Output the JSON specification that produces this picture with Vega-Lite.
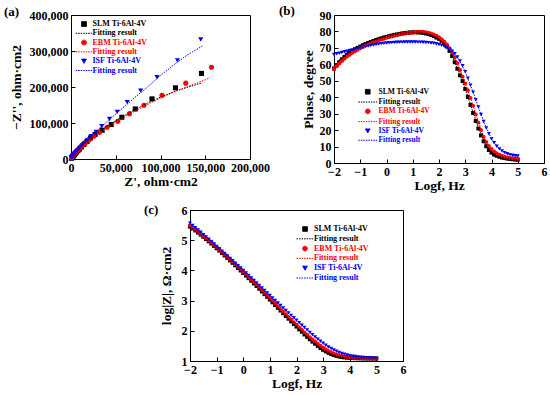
{
  "$schema": "https://vega.github.io/schema/vega-lite/v6.json",
  "background": "white",
  "padding": {"left": 3, "top": 4, "right": 2, "bottom": 2},
  "spacing": 11,
  "resolve": {"scale": {"color": "independent", "shape": "independent"}, "legend": {"color": "independent", "shape": "independent"}},
  "datasets": {
    "nyq": [
      {"k":"SLM","x":145800,"y":237700},{"k":"SLM","x":116700,"y":197700},{"k":"SLM","x":90500,"y":167000},{"k":"SLM","x":71800,"y":139000},{"k":"SLM","x":56800,"y":116000},{"k":"SLM","x":44900,"y":95700},{"k":"SLM","x":34800,"y":80000},{"k":"SLM","x":26900,"y":68000},{"k":"SLM","x":21700,"y":58500},{"k":"SLM","x":17800,"y":48500},{"k":"SLM","x":14400,"y":40200},{"k":"SLM","x":11700,"y":33400},{"k":"SLM","x":9500,"y":27700},{"k":"SLM","x":7700,"y":22900},{"k":"SLM","x":6200,"y":19000},{"k":"SLM","x":5000,"y":15700},{"k":"SLM","x":4000,"y":13000},{"k":"SLM","x":3200,"y":10800},{"k":"SLM","x":2500,"y":8900},{"k":"SLM","x":2000,"y":7400},{"k":"SLM","x":1600,"y":6100},{"k":"SLM","x":1300,"y":5000},{"k":"SLM","x":1000,"y":4000},{"k":"SLM","x":800,"y":3200},{"k":"SLM","x":600,"y":2500},
      {"k":"EBM","x":157000,"y":255000},{"k":"EBM","x":128200,"y":210700},{"k":"EBM","x":101700,"y":177000},{"k":"EBM","x":81500,"y":149500},{"k":"EBM","x":65400,"y":126000},{"k":"EBM","x":52300,"y":105000},{"k":"EBM","x":40400,"y":88000},{"k":"EBM","x":31800,"y":74000},{"k":"EBM","x":25400,"y":63000},{"k":"EBM","x":20200,"y":53000},{"k":"EBM","x":16000,"y":44500},{"k":"EBM","x":12600,"y":37200},{"k":"EBM","x":9900,"y":31000},{"k":"EBM","x":7800,"y":25800},{"k":"EBM","x":6100,"y":21300},{"k":"EBM","x":4800,"y":17600},{"k":"EBM","x":3700,"y":14500},{"k":"EBM","x":2900,"y":11900},{"k":"EBM","x":2200,"y":9800},{"k":"EBM","x":1700,"y":8000},{"k":"EBM","x":1300,"y":6600},{"k":"EBM","x":1000,"y":5400},{"k":"EBM","x":800,"y":4400},{"k":"EBM","x":600,"y":3500},
      {"k":"ISF","x":145000,"y":332000},{"k":"ISF","x":118900,"y":274000},{"k":"ISF","x":96100,"y":227000},{"k":"ISF","x":77800,"y":190000},{"k":"ISF","x":62800,"y":158000},{"k":"ISF","x":51600,"y":131000},{"k":"ISF","x":43000,"y":111000},{"k":"ISF","x":34400,"y":91000},{"k":"ISF","x":28000,"y":75000},{"k":"ISF","x":22400,"y":63000},{"k":"ISF","x":18500,"y":53000},{"k":"ISF","x":15200,"y":44500},{"k":"ISF","x":12500,"y":37300},{"k":"ISF","x":10200,"y":31200},{"k":"ISF","x":8300,"y":26100},{"k":"ISF","x":6800,"y":21800},{"k":"ISF","x":5500,"y":18200},{"k":"ISF","x":4500,"y":15200},{"k":"ISF","x":3600,"y":12700},{"k":"ISF","x":2900,"y":10600},{"k":"ISF","x":2400,"y":8800},{"k":"ISF","x":1900,"y":7300},{"k":"ISF","x":1500,"y":6100},{"k":"ISF","x":1200,"y":5100},{"k":"ISF","x":900,"y":4200}
    ],
    "nyqfit": [
      {"k":"SLM_fit","x":0,"y":0},{"k":"SLM_fit","x":2000,"y":7500},{"k":"SLM_fit","x":5000,"y":17000},{"k":"SLM_fit","x":10000,"y":30000},{"k":"SLM_fit","x":17000,"y":46000},{"k":"SLM_fit","x":25000,"y":63000},{"k":"SLM_fit","x":35000,"y":82000},{"k":"SLM_fit","x":45000,"y":99000},{"k":"SLM_fit","x":57000,"y":117000},{"k":"SLM_fit","x":70000,"y":135000},{"k":"SLM_fit","x":85000,"y":155000},{"k":"SLM_fit","x":100000,"y":172000},{"k":"SLM_fit","x":115000,"y":187000},{"k":"SLM_fit","x":130000,"y":199000},{"k":"SLM_fit","x":145800,"y":211000},
      {"k":"EBM_fit","x":0,"y":0},{"k":"EBM_fit","x":2000,"y":7000},{"k":"EBM_fit","x":5000,"y":16000},{"k":"EBM_fit","x":10000,"y":28500},{"k":"EBM_fit","x":17000,"y":44500},{"k":"EBM_fit","x":25000,"y":61000},{"k":"EBM_fit","x":35000,"y":79000},{"k":"EBM_fit","x":45000,"y":95000},{"k":"EBM_fit","x":57000,"y":113000},{"k":"EBM_fit","x":70000,"y":131000},{"k":"EBM_fit","x":85000,"y":151000},{"k":"EBM_fit","x":100000,"y":169000},{"k":"EBM_fit","x":115000,"y":186000},{"k":"EBM_fit","x":130000,"y":201000},{"k":"EBM_fit","x":145000,"y":215000},{"k":"EBM_fit","x":155200,"y":225500},
      {"k":"ISF_fit","x":0,"y":0},{"k":"ISF_fit","x":2000,"y":8000},{"k":"ISF_fit","x":5000,"y":18000},{"k":"ISF_fit","x":10000,"y":33000},{"k":"ISF_fit","x":17000,"y":51000},{"k":"ISF_fit","x":25000,"y":69000},{"k":"ISF_fit","x":35000,"y":92000},{"k":"ISF_fit","x":45000,"y":114000},{"k":"ISF_fit","x":57000,"y":140000},{"k":"ISF_fit","x":70000,"y":168000},{"k":"ISF_fit","x":85000,"y":199000},{"k":"ISF_fit","x":100000,"y":232000},{"k":"ISF_fit","x":115000,"y":262000},{"k":"ISF_fit","x":130000,"y":289000},{"k":"ISF_fit","x":146600,"y":313700}
    ],
    "ph": [
      {"f":-2,"SLM":57.5,"EBM":57,"ISF":66},{"f":-1.9,"SLM":59.5,"EBM":58.8,"ISF":66.4},{"f":-1.8,"SLM":61.3,"EBM":60.5,"ISF":66.8},{"f":-1.7,"SLM":63,"EBM":62,"ISF":67.2},{"f":-1.6,"SLM":64.5,"EBM":63.4,"ISF":67.6},{"f":-1.5,"SLM":65.8,"EBM":64.7,"ISF":68},{"f":-1.4,"SLM":67,"EBM":65.9,"ISF":68.4},{"f":-1.3,"SLM":68.1,"EBM":67,"ISF":68.8},{"f":-1.2,"SLM":69.1,"EBM":68,"ISF":69.2},{"f":-1.1,"SLM":70,"EBM":68.9,"ISF":69.6},
      {"f":-1,"SLM":70.8,"EBM":69.8,"ISF":70},{"f":-0.9,"SLM":71.6,"EBM":70.6,"ISF":70.4},{"f":-0.8,"SLM":72.3,"EBM":71.4,"ISF":70.8},{"f":-0.7,"SLM":73,"EBM":72.1,"ISF":71.2},{"f":-0.6,"SLM":73.6,"EBM":72.8,"ISF":71.5},{"f":-0.5,"SLM":74.2,"EBM":73.4,"ISF":71.8},{"f":-0.4,"SLM":74.8,"EBM":74,"ISF":72.1},{"f":-0.3,"SLM":75.3,"EBM":74.6,"ISF":72.4},{"f":-0.2,"SLM":75.8,"EBM":75.1,"ISF":72.6},{"f":-0.1,"SLM":76.3,"EBM":75.6,"ISF":72.8},
      {"f":0,"SLM":76.7,"EBM":76.1,"ISF":73},{"f":0.1,"SLM":77.1,"EBM":76.6,"ISF":73.1},{"f":0.2,"SLM":77.5,"EBM":77,"ISF":73.2},{"f":0.3,"SLM":77.9,"EBM":77.4,"ISF":73.3},{"f":0.4,"SLM":78.2,"EBM":77.8,"ISF":73.4},{"f":0.5,"SLM":78.5,"EBM":78.1,"ISF":73.5},{"f":0.6,"SLM":78.8,"EBM":78.4,"ISF":73.5},{"f":0.7,"SLM":79,"EBM":78.7,"ISF":73.6},{"f":0.8,"SLM":79.2,"EBM":79,"ISF":73.6},{"f":0.9,"SLM":79.4,"EBM":79.2,"ISF":73.6},
      {"f":1,"SLM":79.5,"EBM":79.4,"ISF":73.6},{"f":1.1,"SLM":79.5,"EBM":79.6,"ISF":73.6},{"f":1.2,"SLM":79.4,"EBM":79.7,"ISF":73.5},{"f":1.3,"SLM":79.3,"EBM":79.8,"ISF":73.5},{"f":1.4,"SLM":79.1,"EBM":79.7,"ISF":73.4},{"f":1.5,"SLM":78.8,"EBM":79.5,"ISF":73.3},{"f":1.6,"SLM":78.4,"EBM":79.2,"ISF":73.2},{"f":1.7,"SLM":77.9,"EBM":78.8,"ISF":73},{"f":1.8,"SLM":77.2,"EBM":78.2,"ISF":72.8},{"f":1.9,"SLM":76.3,"EBM":77.4,"ISF":72.5},
      {"f":2,"SLM":75.5,"EBM":76.4,"ISF":72.1},{"f":2.1,"SLM":74.3,"EBM":75.2,"ISF":71.6},{"f":2.2,"SLM":72.8,"EBM":73.8,"ISF":71},{"f":2.3,"SLM":70.8,"EBM":72,"ISF":70.2},{"f":2.4,"SLM":68.2,"EBM":69.8,"ISF":69.2},{"f":2.5,"SLM":65,"EBM":67.2,"ISF":68},{"f":2.6,"SLM":61.3,"EBM":64.2,"ISF":66.4},{"f":2.7,"SLM":57.3,"EBM":60.6,"ISF":64.4},{"f":2.8,"SLM":53.3,"EBM":56.6,"ISF":62},{"f":2.9,"SLM":49.8,"EBM":52.5,"ISF":59.2},
      {"f":3,"SLM":45,"EBM":48.4,"ISF":55.5},{"f":3.1,"SLM":40.2,"EBM":44.2,"ISF":51.5},{"f":3.2,"SLM":35.3,"EBM":39.6,"ISF":47.3},{"f":3.3,"SLM":30.4,"EBM":34.8,"ISF":43},{"f":3.4,"SLM":25.6,"EBM":29.5,"ISF":38.5},{"f":3.5,"SLM":21,"EBM":24.5,"ISF":34},{"f":3.6,"SLM":16.8,"EBM":20,"ISF":29.5},{"f":3.7,"SLM":13.2,"EBM":16,"ISF":25.3},{"f":3.8,"SLM":10.2,"EBM":12.8,"ISF":21.3},{"f":3.9,"SLM":7.9,"EBM":10.3,"ISF":17.8},
      {"f":4,"SLM":6.3,"EBM":8.5,"ISF":14.8},{"f":4.1,"SLM":5.1,"EBM":7,"ISF":12.3},{"f":4.2,"SLM":4.4,"EBM":5.9,"ISF":10.2},{"f":4.3,"SLM":3.8,"EBM":5,"ISF":8.6},{"f":4.4,"SLM":3.3,"EBM":4.4,"ISF":7.3},{"f":4.5,"SLM":3,"EBM":3.8,"ISF":6.3},{"f":4.6,"SLM":2.7,"EBM":3.4,"ISF":5.6},{"f":4.7,"SLM":2.5,"EBM":3.1,"ISF":5.1},{"f":4.8,"SLM":2.3,"EBM":2.9,"ISF":4.7},{"f":4.9,"SLM":2.1,"EBM":2.7,"ISF":4.4},{"f":5,"SLM":2,"EBM":2.6,"ISF":4.2}
    ],
    "phfit": [
      {"f":-2,"SLM_fit":59,"EBM_fit":58,"ISF_fit":66.2},{"f":-1.75,"SLM_fit":63.5,"EBM_fit":62,"ISF_fit":67},{"f":-1.5,"SLM_fit":67,"EBM_fit":65.2,"ISF_fit":68},{"f":-1.25,"SLM_fit":69.6,"EBM_fit":67.8,"ISF_fit":69},{"f":-1,"SLM_fit":71.6,"EBM_fit":70,"ISF_fit":70},{"f":-0.75,"SLM_fit":73.3,"EBM_fit":71.9,"ISF_fit":71},{"f":-0.5,"SLM_fit":74.7,"EBM_fit":73.5,"ISF_fit":71.8},{"f":-0.25,"SLM_fit":75.9,"EBM_fit":74.9,"ISF_fit":72.5},{"f":0,"SLM_fit":76.9,"EBM_fit":76.1,"ISF_fit":73},{"f":0.25,"SLM_fit":77.8,"EBM_fit":77.2,"ISF_fit":73.3},{"f":0.5,"SLM_fit":78.5,"EBM_fit":78.1,"ISF_fit":73.5},{"f":0.75,"SLM_fit":79.1,"EBM_fit":78.8,"ISF_fit":73.6},{"f":1,"SLM_fit":79.4,"EBM_fit":79.4,"ISF_fit":73.6},{"f":1.25,"SLM_fit":79.4,"EBM_fit":79.7,"ISF_fit":73.5},{"f":1.5,"SLM_fit":78.9,"EBM_fit":79.5,"ISF_fit":73.3},{"f":1.75,"SLM_fit":77.7,"EBM_fit":78.5,"ISF_fit":72.9},{"f":2,"SLM_fit":75.4,"EBM_fit":76.4,"ISF_fit":72.1},{"f":2.25,"SLM_fit":71.8,"EBM_fit":73,"ISF_fit":70.6},{"f":2.5,"SLM_fit":65.2,"EBM_fit":67.2,"ISF_fit":68},{"f":2.75,"SLM_fit":55.6,"EBM_fit":58.6,"ISF_fit":63.2},{"f":3,"SLM_fit":45,"EBM_fit":48.4,"ISF_fit":55.5},{"f":3.25,"SLM_fit":33,"EBM_fit":37.2,"ISF_fit":45.2},{"f":3.5,"SLM_fit":21.5,"EBM_fit":25,"ISF_fit":34},{"f":3.75,"SLM_fit":12,"EBM_fit":14.4,"ISF_fit":23.3},{"f":4,"SLM_fit":6.5,"EBM_fit":8.5,"ISF_fit":14.8},{"f":4.25,"SLM_fit":4.2,"EBM_fit":5.5,"ISF_fit":9.3},{"f":4.5,"SLM_fit":3,"EBM_fit":3.8,"ISF_fit":6.3},{"f":4.75,"SLM_fit":2.4,"EBM_fit":3,"ISF_fit":4.9},{"f":5,"SLM_fit":2,"EBM_fit":2.6,"ISF_fit":4.2}
    ],
    "mz": [
      {"f":-2,"SLM":5.45,"EBM":5.476,"ISF":5.56},{"f":-1.9,"SLM":5.387,"EBM":5.412,"ISF":5.486},{"f":-1.8,"SLM":5.321,"EBM":5.346,"ISF":5.411},{"f":-1.7,"SLM":5.253,"EBM":5.278,"ISF":5.336},{"f":-1.6,"SLM":5.183,"EBM":5.208,"ISF":5.26},{"f":-1.5,"SLM":5.112,"EBM":5.137,"ISF":5.184},{"f":-1.4,"SLM":5.039,"EBM":5.065,"ISF":5.107},{"f":-1.3,"SLM":4.964,"EBM":4.991,"ISF":5.03},{"f":-1.2,"SLM":4.889,"EBM":4.917,"ISF":4.953},{"f":-1.1,"SLM":4.812,"EBM":4.841,"ISF":4.875},
      {"f":-1,"SLM":4.734,"EBM":4.764,"ISF":4.796},{"f":-0.9,"SLM":4.656,"EBM":4.687,"ISF":4.717},{"f":-0.8,"SLM":4.576,"EBM":4.608,"ISF":4.638},{"f":-0.7,"SLM":4.496,"EBM":4.529,"ISF":4.558},{"f":-0.6,"SLM":4.415,"EBM":4.449,"ISF":4.478},{"f":-0.5,"SLM":4.333,"EBM":4.368,"ISF":4.397},{"f":-0.4,"SLM":4.25,"EBM":4.286,"ISF":4.316},{"f":-0.3,"SLM":4.167,"EBM":4.204,"ISF":4.235},{"f":-0.2,"SLM":4.083,"EBM":4.121,"ISF":4.155},{"f":-0.1,"SLM":3.999,"EBM":4.038,"ISF":4.077},
      {"f":0,"SLM":3.914,"EBM":3.954,"ISF":4},{"f":0.1,"SLM":3.829,"EBM":3.87,"ISF":3.917},{"f":0.2,"SLM":3.743,"EBM":3.785,"ISF":3.835},{"f":0.3,"SLM":3.657,"EBM":3.7,"ISF":3.752},{"f":0.4,"SLM":3.57,"EBM":3.614,"ISF":3.67},{"f":0.5,"SLM":3.483,"EBM":3.528,"ISF":3.587},{"f":0.6,"SLM":3.394,"EBM":3.44,"ISF":3.504},{"f":0.7,"SLM":3.304,"EBM":3.351,"ISF":3.421},{"f":0.8,"SLM":3.214,"EBM":3.262,"ISF":3.338},{"f":0.9,"SLM":3.124,"EBM":3.173,"ISF":3.256},
      {"f":1,"SLM":3.033,"EBM":3.083,"ISF":3.173},{"f":1.1,"SLM":2.943,"EBM":2.994,"ISF":3.09},{"f":1.2,"SLM":2.852,"EBM":2.904,"ISF":3.007},{"f":1.3,"SLM":2.762,"EBM":2.815,"ISF":2.924},{"f":1.4,"SLM":2.671,"EBM":2.725,"ISF":2.841},{"f":1.5,"SLM":2.581,"EBM":2.636,"ISF":2.759},{"f":1.6,"SLM":2.491,"EBM":2.547,"ISF":2.676},{"f":1.7,"SLM":2.402,"EBM":2.459,"ISF":2.594},{"f":1.8,"SLM":2.313,"EBM":2.371,"ISF":2.511},{"f":1.9,"SLM":2.225,"EBM":2.284,"ISF":2.429},
      {"f":2,"SLM":2.14,"EBM":2.2,"ISF":2.348},{"f":2.1,"SLM":2.05,"EBM":2.112,"ISF":2.266},{"f":2.2,"SLM":1.97,"EBM":2.034,"ISF":2.186},{"f":2.3,"SLM":1.88,"EBM":1.946,"ISF":2.106},{"f":2.4,"SLM":1.8,"EBM":1.868,"ISF":2.026},{"f":2.5,"SLM":1.72,"EBM":1.79,"ISF":1.948},{"f":2.6,"SLM":1.64,"EBM":1.711,"ISF":1.872},{"f":2.7,"SLM":1.57,"EBM":1.642,"ISF":1.797},{"f":2.8,"SLM":1.5,"EBM":1.574,"ISF":1.724},{"f":2.9,"SLM":1.43,"EBM":1.505,"ISF":1.654},
      {"f":3,"SLM":1.37,"EBM":1.445,"ISF":1.588},{"f":3.1,"SLM":1.32,"EBM":1.389,"ISF":1.525},{"f":3.2,"SLM":1.27,"EBM":1.334,"ISF":1.467},{"f":3.3,"SLM":1.23,"EBM":1.288,"ISF":1.414},{"f":3.4,"SLM":1.2,"EBM":1.25,"ISF":1.366},{"f":3.5,"SLM":1.17,"EBM":1.215,"ISF":1.322},{"f":3.6,"SLM":1.15,"EBM":1.188,"ISF":1.284},{"f":3.7,"SLM":1.13,"EBM":1.163,"ISF":1.251},{"f":3.8,"SLM":1.12,"EBM":1.146,"ISF":1.222},{"f":3.9,"SLM":1.11,"EBM":1.131,"ISF":1.198},
      {"f":4,"SLM":1.1,"EBM":1.115,"ISF":1.178},{"f":4.1,"SLM":1.097,"EBM":1.108,"ISF":1.161},{"f":4.2,"SLM":1.094,"EBM":1.103,"ISF":1.148},{"f":4.3,"SLM":1.091,"EBM":1.099,"ISF":1.136},{"f":4.4,"SLM":1.089,"EBM":1.096,"ISF":1.126},{"f":4.5,"SLM":1.087,"EBM":1.093,"ISF":1.118},{"f":4.6,"SLM":1.085,"EBM":1.091,"ISF":1.111},{"f":4.7,"SLM":1.084,"EBM":1.089,"ISF":1.105},{"f":4.8,"SLM":1.083,"EBM":1.087,"ISF":1.099},{"f":4.9,"SLM":1.082,"EBM":1.086,"ISF":1.094},{"f":5,"SLM":1.081,"EBM":1.085,"ISF":1.089}
    ],
    "mzfit": [
      {"f":-2,"SLM_fit":5.45,"EBM_fit":5.476,"ISF_fit":5.56},{"f":-1.5,"SLM_fit":5.112,"EBM_fit":5.137,"ISF_fit":5.184},{"f":-1,"SLM_fit":4.734,"EBM_fit":4.764,"ISF_fit":4.796},{"f":-0.5,"SLM_fit":4.333,"EBM_fit":4.368,"ISF_fit":4.397},{"f":0,"SLM_fit":3.914,"EBM_fit":3.954,"ISF_fit":4},{"f":0.5,"SLM_fit":3.483,"EBM_fit":3.528,"ISF_fit":3.587},{"f":1,"SLM_fit":3.033,"EBM_fit":3.083,"ISF_fit":3.173},{"f":1.5,"SLM_fit":2.581,"EBM_fit":2.636,"ISF_fit":2.759},{"f":2,"SLM_fit":2.14,"EBM_fit":2.2,"ISF_fit":2.348},{"f":2.25,"SLM_fit":1.925,"EBM_fit":1.99,"ISF_fit":2.146},{"f":2.5,"SLM_fit":1.72,"EBM_fit":1.79,"ISF_fit":1.948},{"f":2.75,"SLM_fit":1.535,"EBM_fit":1.608,"ISF_fit":1.76},{"f":3,"SLM_fit":1.37,"EBM_fit":1.445,"ISF_fit":1.588},{"f":3.25,"SLM_fit":1.25,"EBM_fit":1.31,"ISF_fit":1.44},{"f":3.5,"SLM_fit":1.17,"EBM_fit":1.215,"ISF_fit":1.322},{"f":3.75,"SLM_fit":1.125,"EBM_fit":1.155,"ISF_fit":1.236},{"f":4,"SLM_fit":1.1,"EBM_fit":1.115,"ISF_fit":1.178},{"f":4.5,"SLM_fit":1.087,"EBM_fit":1.093,"ISF_fit":1.118},{"f":5,"SLM_fit":1.081,"EBM_fit":1.085,"ISF_fit":1.089}
    ]
  },
  "vconcat": [
    {
      "hconcat": [
        {
          "width": 179, "height": 144,
          "title": {"text": "(a)", "dx": -67, "dy": 5, "offset": -5},
          "encoding": {
            "x": {"field": "x", "type": "quantitative", "scale": {"domain": [0, 200000], "nice": false}, "axis": {"title": "Z', ohm·cm2", "values": [0, 50000, 100000, 150000, 200000], "format": ",d", "titlePadding": 1}},
            "y": {"field": "y", "type": "quantitative", "scale": {"domain": [0, 400000], "nice": false}, "axis": {"title": "−Z'', ohm·cm2", "values": [0, 100000, 200000, 300000, 400000], "format": ",d", "titlePadding": 6}},
            "color": {"field": "k", "type": "nominal",
              "scale": {"domain": ["SLM", "SLM_fit", "EBM", "EBM_fit", "ISF", "ISF_fit"], "range": ["#000000", "#000000", "#ff0000", "#ff0000", "#0000ff", "#0000ff"]},
              "legend": {"title": null, "orient": "none", "legendX": 9, "legendY": 5, "labelFontSize": 8, "labelOffset": 4.5, "rowPadding": 0.3, "symbolOpacity": 1,
                "symbolSize": 24, "symbolStrokeWidth": 1,
                "symbolType": {"expr": "indexof(datum.value,'_fit')>=0 ? 'M-3.4,0H3.4' : datum.value=='SLM' ? 'square' : datum.value=='EBM' ? 'circle' : 'triangle-down'"},
                "symbolDash": {"expr": "indexof(datum.value,'_fit')>=0 ? [1.5,1] : [1,0]"},
                "symbolStrokeColor": {"expr": "indexof(datum.value,'SLM')>=0 ? '#000000' : indexof(datum.value,'EBM')>=0 ? '#ff0000' : '#0000ff'"},
                "labelColor": {"expr": "indexof(datum.value,'SLM')>=0 ? '#000000' : indexof(datum.value,'EBM')>=0 ? '#ff0000' : '#0000ff'"},
                "labelExpr": "indexof(datum.value,'_fit')>=0 ? 'Fitting result' : datum.value + ' Ti-6Al-4V'"
              }
            }
          },
          "layer": [
            {"data": {"name": "nyq"}, "mark": {"type": "point", "filled": true, "opacity": 1, "size": 26},
             "encoding": {"shape": {"field": "k", "type": "nominal", "scale": {"domain": ["SLM", "EBM", "ISF"], "range": ["square", "circle", "triangle-down"]}, "legend": null}}},
            {"data": {"name": "nyqfit"}, "mark": {"type": "line", "strokeDash": [1.5, 1.2], "strokeWidth": 1}, "encoding": {}}
          ]
        },
        {
          "width": 210, "height": 148,
          "title": {"text": "(b)", "dx": -55, "dy": 4, "offset": -5},
          "encoding": {
            "x": {"field": "f", "type": "quantitative", "scale": {"domain": [-2, 6], "nice": false}, "axis": {"title": "Logf, Hz", "values": [-2, -1, 0, 1, 2, 3, 4, 5, 6], "titlePadding": 1}},
            "y": {"field": "v", "type": "quantitative", "scale": {"domain": [0, 90], "nice": false}, "axis": {"title": "Phase, degree", "values": [0, 10, 20, 30, 40, 50, 60, 70, 80, 90], "titlePadding": 4}},
            "color": {"field": "k", "type": "nominal",
              "scale": {"domain": ["SLM", "SLM_fit", "EBM", "EBM_fit", "ISF", "ISF_fit"], "range": ["#000000", "#000000", "#ff0000", "#ff0000", "#0000ff", "#0000ff"]},
              "legend": {"title": null, "orient": "none", "legendX": 30, "legendY": 73, "labelFontSize": 7.5, "labelOffset": 7, "rowPadding": 0.3, "symbolOpacity": 1,
                "symbolSize": 22, "symbolStrokeWidth": 1,
                "symbolType": {"expr": "indexof(datum.value,'_fit')>=0 ? 'M-4,0H4' : datum.value=='SLM' ? 'square' : datum.value=='EBM' ? 'circle' : 'triangle-down'"},
                "symbolDash": {"expr": "indexof(datum.value,'_fit')>=0 ? [1.5,1] : [1,0]"},
                "symbolStrokeColor": {"expr": "indexof(datum.value,'SLM')>=0 ? '#000000' : indexof(datum.value,'EBM')>=0 ? '#ff0000' : '#0000ff'"},
                "labelColor": {"expr": "indexof(datum.value,'SLM')>=0 ? '#000000' : indexof(datum.value,'EBM')>=0 ? '#ff0000' : '#0000ff'"},
                "labelExpr": "indexof(datum.value,'_fit')>=0 ? 'Fitting result' : datum.value + ' Ti-6Al-4V'"
              }
            }
          },
          "layer": [
            {"data": {"name": "ph"}, "transform": [{"fold": ["SLM", "EBM", "ISF"], "as": ["k", "v"]}],
             "mark": {"type": "point", "filled": true, "opacity": 1, "size": 16},
             "encoding": {"shape": {"field": "k", "type": "nominal", "scale": {"domain": ["SLM", "EBM", "ISF"], "range": ["square", "circle", "triangle-down"]}, "legend": null}}},
            {"data": {"name": "phfit"}, "transform": [{"fold": ["SLM_fit", "EBM_fit", "ISF_fit"], "as": ["k", "v"]}],
             "mark": {"type": "line", "strokeDash": [1.5, 1.2], "strokeWidth": 1}, "encoding": {}}
          ]
        }
      ],
      "spacing": 8,
      "resolve": {"scale": {"color": "independent", "shape": "independent"}, "legend": {"color": "independent", "shape": "independent"}}
    },
    {
      "hconcat": [
        {
          "width": 68, "height": 1,
          "view": {"stroke": null},
          "data": {"values": []},
          "mark": {"type": "point"}
        },
        {
          "width": 213, "height": 151,
          "title": {"text": "(c)", "dx": -46, "dy": 8, "offset": -5},
          "encoding": {
            "x": {"field": "f", "type": "quantitative", "scale": {"domain": [-2, 6], "nice": false}, "axis": {"title": "Logf, Hz", "values": [-2, -1, 0, 1, 2, 3, 4, 5, 6], "titlePadding": 1}},
            "y": {"field": "v", "type": "quantitative", "scale": {"domain": [1, 6], "nice": false}, "axis": {"title": "log|Z|, Ω·cm2", "values": [1, 2, 3, 4, 5, 6], "titlePadding": 8}},
            "color": {"field": "k", "type": "nominal",
              "scale": {"domain": ["SLM", "SLM_fit", "EBM", "EBM_fit", "ISF", "ISF_fit"], "range": ["#000000", "#000000", "#ff0000", "#ff0000", "#0000ff", "#0000ff"]},
              "legend": {"title": null, "orient": "none", "legendX": 111, "legendY": 15, "labelFontSize": 8, "labelOffset": 5, "rowPadding": 0.8, "symbolOpacity": 1,
                "symbolSize": 22, "symbolStrokeWidth": 1,
                "symbolType": {"expr": "indexof(datum.value,'_fit')>=0 ? 'M-3.6,0H3.6' : datum.value=='SLM' ? 'square' : datum.value=='EBM' ? 'circle' : 'triangle-down'"},
                "symbolDash": {"expr": "indexof(datum.value,'_fit')>=0 ? [1.5,1] : [1,0]"},
                "symbolStrokeColor": {"expr": "indexof(datum.value,'SLM')>=0 ? '#000000' : indexof(datum.value,'EBM')>=0 ? '#ff0000' : '#0000ff'"},
                "labelColor": {"expr": "indexof(datum.value,'SLM')>=0 ? '#000000' : indexof(datum.value,'EBM')>=0 ? '#ff0000' : '#0000ff'"},
                "labelExpr": "indexof(datum.value,'_fit')>=0 ? 'Fitting result' : datum.value + ' Ti-6Al-4V'"
              }
            }
          },
          "layer": [
            {"data": {"name": "mz"}, "transform": [{"fold": ["SLM", "EBM", "ISF"], "as": ["k", "v"]}],
             "mark": {"type": "point", "filled": true, "opacity": 1, "size": 16},
             "encoding": {"shape": {"field": "k", "type": "nominal", "scale": {"domain": ["SLM", "EBM", "ISF"], "range": ["square", "circle", "triangle-down"]}, "legend": null}}},
            {"data": {"name": "mzfit"}, "transform": [{"fold": ["SLM_fit", "EBM_fit", "ISF_fit"], "as": ["k", "v"]}],
             "mark": {"type": "line", "strokeDash": [1.5, 1.2], "strokeWidth": 1}, "encoding": {}}
          ]
        }
      ],
      "spacing": 4,
      "resolve": {"scale": {"color": "independent", "shape": "independent"}, "legend": {"color": "independent", "shape": "independent"}}
    }
  ],
  "config": {
    "font": "Liberation Serif",
    "view": {"stroke": "#000000", "strokeWidth": 1},
    "axis": {"labelFont": "Liberation Serif", "labelFontWeight": "bold", "labelFontSize": 12, "labelColor": "#000000",
      "titleFont": "Liberation Serif", "titleFontWeight": "bold", "titleFontSize": 13.5, "titleColor": "#000000",
      "domainColor": "#000000", "tickColor": "#000000", "grid": false, "tickSize": -4, "labelPadding": 7, "labelFlush": false},
    "title": {"font": "Liberation Serif", "fontWeight": "bold", "fontSize": 13, "anchor": "start", "frame": "group", "color": "#000000"},
    "legend": {"labelFont": "Liberation Serif", "labelFontWeight": "bold", "padding": 0}
  }
}
